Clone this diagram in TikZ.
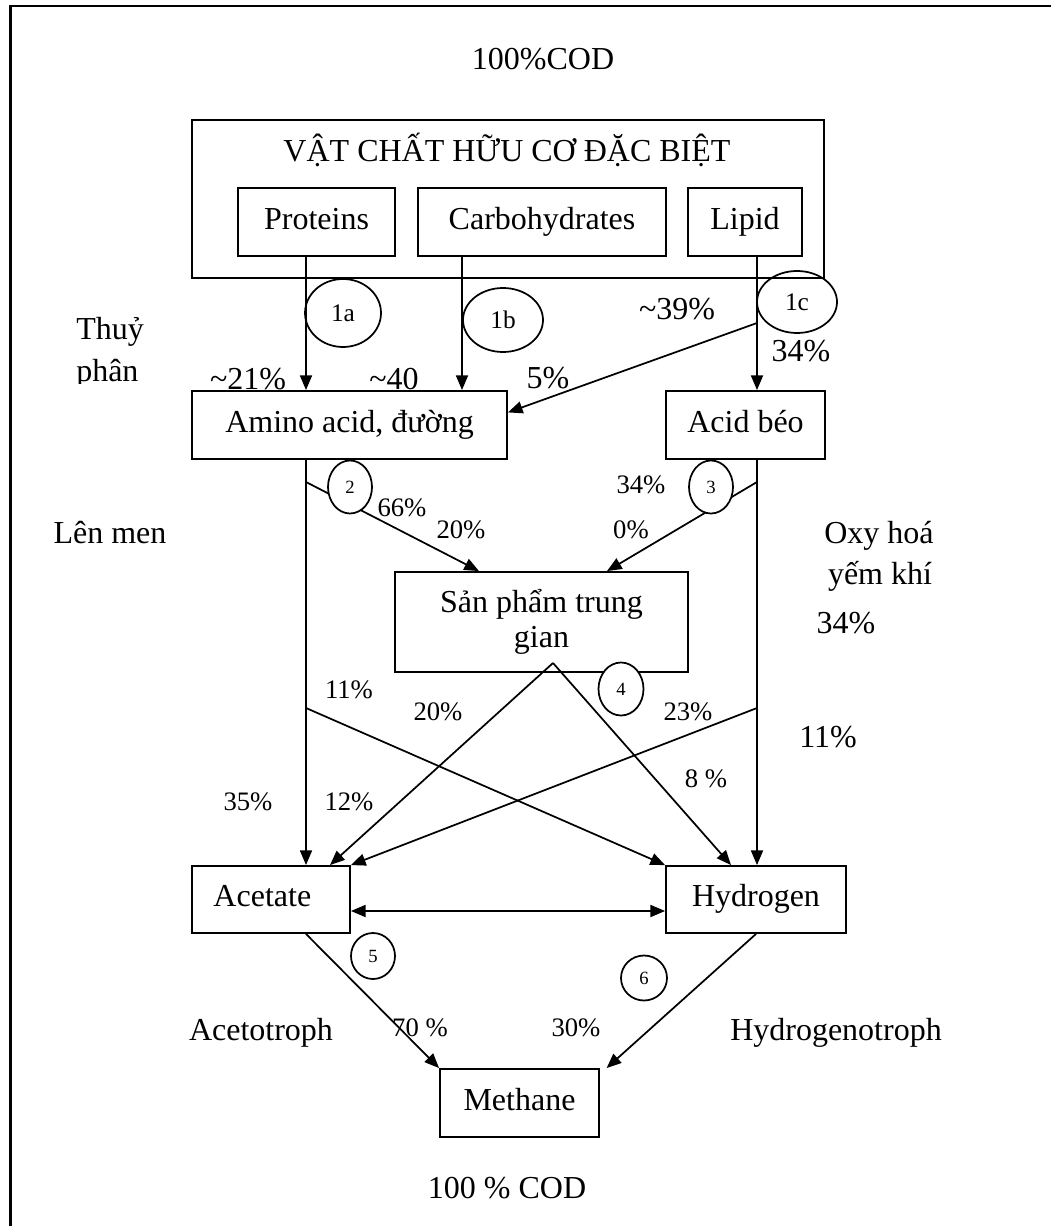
\documentclass[tikz,border=0pt]{standalone}
\usepackage{fontspec}
\setmainfont{Liberation Serif}
\usetikzlibrary{arrows.meta,shapes.geometric,calc}
\begin{document}
\begin{tikzpicture}[x=0.75pt,y=-0.75pt,
  sz/.style 2 args={minimum width={#1*0.75pt},minimum height={#2*0.75pt}},
  box/.style={draw,line width=1.4pt,inner sep=0pt,font=\fontsize{24}{26}\selectfont},
  box1/.style={box,text height=17pt,text depth=6pt},
  conn/.style={line width=1.3pt},
  arr/.style={conn,-{Triangle[length=11pt,width=9pt]}},
  arrtwo/.style={conn,{Triangle[length=11pt,width=9pt]}-{Triangle[length=11pt,width=9pt]}},
  bigtxt/.style={font=\fontsize{24}{28}\selectfont,inner sep=0pt,anchor=base},
  midtxt/.style={font=\fontsize{20}{24}\selectfont,inner sep=0pt,anchor=base},
  oval/.style={draw,ellipse,line width=1.3pt,inner sep=0pt},
  ovalbig/.style={oval,font=\fontsize{19}{22}\selectfont},
  ovalsmall/.style={oval,fill=white,font=\fontsize{14}{16}\selectfont},
  frame/.style={line width=2pt}
]
\useasboundingbox (0,0) rectangle (1051,1226);

% page frame (top and left edges)
\draw[frame] (10.5,1226) -- (10.5,6) -- (1051,6);

% headings
\node[bigtxt] (codTop) at (543,70) {100\%COD};

% organic matter block
\node[box,sz={632}{158}] (Organic) at (508,199) {};
\node[bigtxt] (OrgTitle) at (507,162) {VẬT CHẤT HỮU CƠ ĐẶC BIỆT};
\node[box1,sz={157}{68}] (Proteins) at (316.5,222) {Proteins};
\node[box1,sz={248}{68}] (Carbo) at (542,222) {Carbohydrates};
\node[box1,sz={114}{68}] (Lipid) at (745,222) {Lipid};

% intermediate and final products
\node[box1,sz={315}{68}] (Amino) at (349.5,425) {Amino acid, đường};
\node[box1,sz={159}{68}] (AcidBeo) at (745.5,425) {Acid béo};
\node[box,sz={293}{100},align=center] (SP) at (541.5,622) {Sản phẩm trung\\gian};
\node[box1,sz={158}{67}] (Acetate) at (271,899.5) {Acetate\hspace*{13pt}};
\node[box1,sz={180}{67}] (Hydrogen) at (756,899.5) {Hydrogen};
\node[box1,sz={159}{68}] (Methane) at (519.5,1103) {Methane};

% guide coordinates for the connector routes
\coordinate (xP) at (306,0);
\coordinate (xC) at (462,0);
\coordinate (xL) at (757,0);
\coordinate (xA) at (479,0);
\coordinate (xB) at (607,0);
\coordinate (xD) at (330,0);
\coordinate (xE) at (731,0);
\coordinate (yM) at (0,911);
\coordinate (bL) at (757,323);
\coordinate (b2) at (306,482);
\coordinate (b3) at (757,482);
\coordinate (b4) at (306,708);
\coordinate (b5) at (757,708);
\coordinate (ap) at (553,663);

% hydrolysis
\draw[arr] (Proteins.south -| xP) -- (Amino.north -| xP);
\draw[arr] (Carbo.south -| xC) -- (Amino.north -| xC);
\draw[arr] (Lipid.south -| xL) -- (AcidBeo.north -| xL);
\draw[arr] (bL) -- ($(Amino.north east)!0.32!(Amino.south east)$);

% fermentation and anaerobic oxidation
\draw[arr] (Amino.south -| xP) -- (Acetate.north -| xP);
\draw[arr] (AcidBeo.south -| xL) -- (Hydrogen.north -| xL);
\draw[arr] (b2) -- (SP.north -| xA);
\draw[arr] (b3) -- (SP.north -| xB);
\draw[arr] (ap) -- (Acetate.north -| xD);
\draw[arr] (ap) -- (Hydrogen.north -| xE);
\draw[arr] (b4) -- (Hydrogen.north west);
\draw[arr] (b5) -- (Acetate.north east);
\draw[arrtwo] (Acetate.east |- yM) -- (Hydrogen.west |- yM);

% methanogenesis
\draw[arr] (Acetate.south -| xP) -- (Methane.north west);
\draw[arr] (Hydrogen.south) -- ([xshift=5pt]Methane.north east);

% step markers
\node[ovalbig,sz={76}{68}] (e1a) at (343,313) {1a};
\node[ovalbig,sz={80}{64}] (e1b) at (503,320) {1b};
\node[ovalbig,sz={80}{62}] (e1c) at (797,302) {1c};
\node[ovalsmall,sz={44}{53}] (e2) at (350,487) {2};
\node[ovalsmall,sz={44}{53}] (e3) at (711,487) {3};
\node[ovalsmall,sz={45}{53}] (e4) at (621,689) {4};
\node[ovalsmall,sz={44}{46}] (e5) at (373,956) {5};
\node[ovalsmall,sz={46}{45}] (e6) at (644,978) {6};

% stage names
\begin{scope}
  \clip (60,290) rectangle (200,383);
  \node[bigtxt,anchor=base west] (Thuy) at (76,340) {Thuỷ};
  \node[bigtxt,anchor=base west] (Phan) at (76,382) {phân};
\end{scope}
\node[bigtxt] (LenMen) at (110,543) {Lên men};
\node[bigtxt] (OxyHoa) at (879,543) {Oxy hoá};
\node[bigtxt] (YemKhi) at (880,584) {yếm khí};
\node[bigtxt] (Acetotroph) at (261,1040) {Acetotroph};
\node[bigtxt] (Hydrogenotroph) at (836,1040) {Hydrogenotroph};
\node[bigtxt] (codBottom) at (507,1198) {100 \% COD};

% COD fractions
\node[bigtxt] (p21) at (248,389) {\textasciitilde21\%};
\node[bigtxt] (p40) at (394,389) {\textasciitilde40};
\node[bigtxt] (p5) at (548,388) {5\%};
\node[bigtxt] (p39) at (677,320) {\textasciitilde39\%};
\node[bigtxt] (p34a) at (801,362) {34\%};
\node[bigtxt] (p34c) at (846,633) {34\%};
\node[bigtxt] (p11b) at (828,747) {11\%};
\node[midtxt] (p66) at (402,516) {66\%};
\node[midtxt] (p20a) at (461,538) {20\%};
\node[midtxt] (p34b) at (641,493) {34\%};
\node[midtxt] (p0) at (631,538) {0\%};
\node[midtxt] (p11a) at (349,698) {11\%};
\node[midtxt] (p20b) at (438,720) {20\%};
\node[midtxt] (p23) at (688,720) {23\%};
\node[midtxt] (p8) at (706,787) {8 \%};
\node[midtxt] (p35) at (248,810) {35\%};
\node[midtxt] (p12) at (349,810) {12\%};
\node[midtxt] (p70) at (420,1036) {70 \%};
\node[midtxt] (p30) at (576,1036) {30\%};
\end{tikzpicture}
\end{document}
